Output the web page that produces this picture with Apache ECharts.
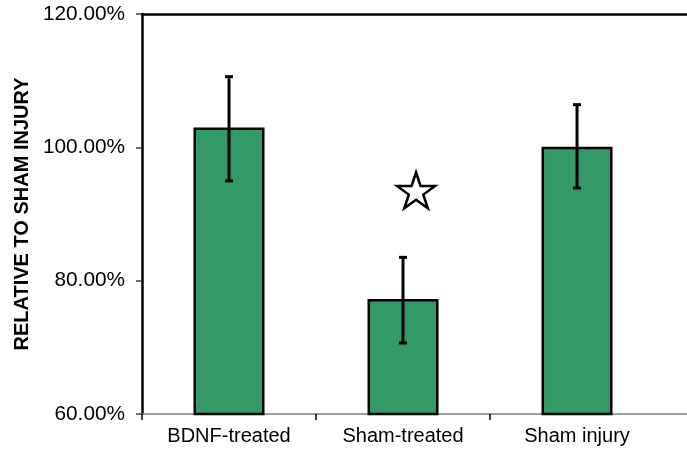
<!DOCTYPE html>
<html>
<head>
<meta charset="utf-8">
<script src="https://cdn.jsdelivr.net/npm/echarts@6/dist/echarts.min.js"></script>
<style>html,body{margin:0;padding:0;background:#fff}#c{width:687px;height:461px}</style>
</head>
<body>
<div id="c"></div>
<script>
const categories = ['BDNF-treated', 'Sham-treated', 'Sham injury'];
const categoryPositions = [0.5, 1.5, 2.5];
const means = [102.97, 77.25, 100.1];
const errUpper = [110.6, 83.5, 106.4];
const errLower = [94.97, 70.65, 93.9];
const yTicks = [60, 80, 100, 120];
const starMark = [1.575, 93.55];
const yTitle = 'RELATIVE TO SHAM INJURY';

const FONT = '"Liberation Sans", Arial, sans-serif';
const starPath = 'path://M50 0 L61.23 34.55 L97.55 34.55 L68.16 55.9 L79.39 90.45 L50 69.1 L20.61 90.45 L31.84 55.9 L2.45 34.55 L38.77 34.55 Z';

const chart = echarts.init(document.getElementById('c'));
chart.setOption({
  animation: false,
  backgroundColor: '#fff',
  grid: { left: 142, right: 0, top: 14, bottom: 47 },
  xAxis: [{
    type: 'value', min: 0, max: 3.132, position: 'bottom',
    splitLine: { show: false },
    axisLine: { show: true, lineStyle: { color: '#808080', width: 1.5 } },
    axisTick: { show: true, customValues: [0, 1, 2], length: 6, lineStyle: { color: '#000', width: 1.5 } },
    axisLabel: {
      customValues: categoryPositions, margin: 12,
      fontFamily: FONT, fontSize: 20, color: '#000',
      formatter: v => { const i = categoryPositions.findIndex(p => Math.abs(p - v) < 1e-6); return i >= 0 ? categories[i] : ''; }
    }
  }, {
    type: 'value', min: 0, max: 3.132, position: 'top',
    splitLine: { show: false },
    axisLine: { show: true, lineStyle: { color: '#000', width: 2.5 } },
    axisTick: { show: false }, axisLabel: { show: false }
  }],
  yAxis: {
    type: 'value', min: yTicks[0], max: yTicks[yTicks.length - 1], interval: 20,
    splitLine: { show: false },
    axisLine: { show: true, lineStyle: { color: '#000', width: 2.5 } },
    axisTick: { show: true, length: 6, lineStyle: { color: '#444', width: 1.5 } },
    axisLabel: { margin: 17, fontFamily: FONT, fontSize: 20.8, color: '#000', formatter: v => v.toFixed(2) + '%' },
    name: yTitle, nameLocation: 'middle', nameRotate: 90, nameGap: 108,
    nameTextStyle: { fontFamily: FONT, fontSize: 20, fontWeight: 'bold', color: '#000' }
  },
  series: [{
    type: 'bar', xAxisIndex: 0, barWidth: 71, z: 2,
    data: categoryPositions.map((p, i) => [p, means[i]]),
    itemStyle: { color: '#339966', borderColor: '#000', borderWidth: 2.5 }
  }, {
    type: 'custom', xAxisIndex: 0, z: 5,
    data: categoryPositions.map((p, i) => [p, errLower[i], errUpper[i]]),
    renderItem: (params, api) => {
      const x = api.value(0);
      const lo = api.coord([x, api.value(1)]);
      const hi = api.coord([x, api.value(2)]);
      const w = 4;
      const style = { stroke: '#000', lineWidth: 3 };
      return { type: 'group', children: [
        { type: 'line', shape: { x1: lo[0], y1: lo[1], x2: hi[0], y2: hi[1] }, style },
        { type: 'line', shape: { x1: hi[0] - w, y1: hi[1], x2: hi[0] + w, y2: hi[1] }, style },
        { type: 'line', shape: { x1: lo[0] - w, y1: lo[1], x2: lo[0] + w, y2: lo[1] }, style }
      ]};
    }
  }, {
    type: 'scatter', xAxisIndex: 0, z: 5,
    data: [starMark],
    symbol: starPath, symbolSize: [38, 36],
    itemStyle: { color: '#fff', borderColor: '#000', borderWidth: 2.5, opacity: 1 }
  }]
});
</script>
</body>
</html>
